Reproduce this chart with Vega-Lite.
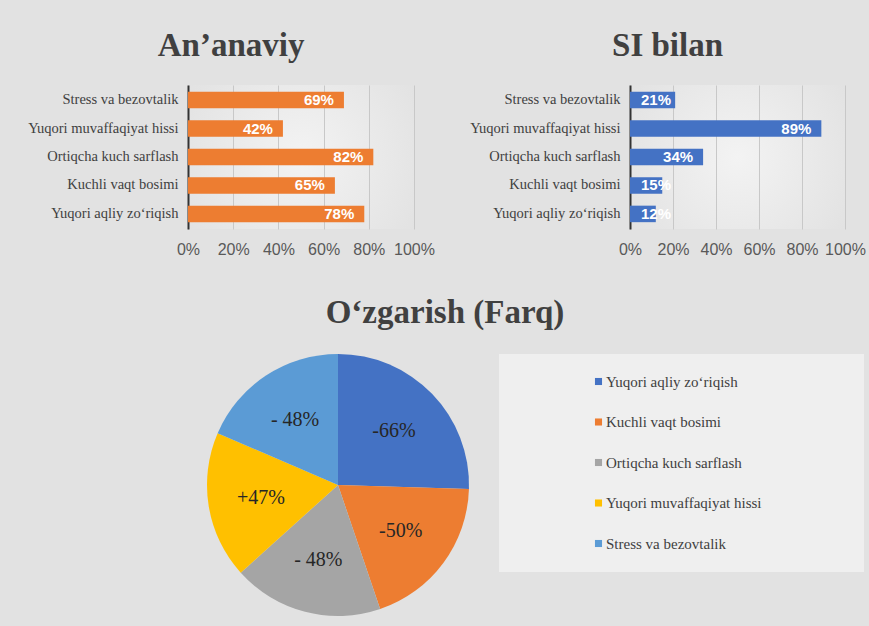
{
  "$schema": "https://vega.github.io/schema/vega-lite/v6.json",
  "background": "#e2e2e2",
  "padding": {"left": 27, "top": 30, "right": 3, "bottom": 10},
  "bounds": "flush",
  "columns": 2,
  "spacing": {"row": 125, "column": 142},
  "resolve": {"legend": {"color": "independent"}, "scale": {"color": "independent"}},
  "config": {
    "view": {"stroke": null, "fill": {"gradient": "radial", "x1": 0.5, "y1": 0.5, "r1": 0, "x2": 0.5, "y2": 0.5, "r2": 0.6, "stops": [{"offset": 0, "color": "#f3f3f3"}, {"offset": 1, "color": "#e2e2e2"}]}},
    "font": "Liberation Serif",
    "title": {"font": "Liberation Serif", "fontSize": 33, "fontWeight": "bold", "color": "#404040", "anchor": "middle"},
    "axisY": {"labelFont": "Liberation Serif", "labelFontSize": 14.5, "labelColor": "#404040", "ticks": false, "labelPadding": 10, "domainColor": "#333333", "domainWidth": 2, "title": null, "grid": false},
    "axisX": {"labelFont": "Liberation Sans", "labelFontSize": 16, "labelColor": "#595959", "ticks": false, "labelPadding": 12, "domain": false, "title": null, "grid": true, "gridColor": "#c8c8c8", "gridWidth": 1, "labelFlush": false}
  },
  "datasets": {
    "trad": [
      {"category": "Stress va bezovtalik", "value": 0.69},
      {"category": "Yuqori muvaffaqiyat hissi", "value": 0.42},
      {"category": "Ortiqcha kuch sarflash", "value": 0.82},
      {"category": "Kuchli vaqt bosimi", "value": 0.65},
      {"category": "Yuqori aqliy zo‘riqish", "value": 0.78}
    ],
    "ai": [
      {"category": "Stress va bezovtalik", "value": 0.21},
      {"category": "Yuqori muvaffaqiyat hissi", "value": 0.89},
      {"category": "Ortiqcha kuch sarflash", "value": 0.34},
      {"category": "Kuchli vaqt bosimi", "value": 0.15},
      {"category": "Yuqori aqliy zo‘riqish", "value": 0.12}
    ],
    "diff": [
      {"n": 1, "category": "Yuqori aqliy zo‘riqish", "value": 66, "label": "-66%"},
      {"n": 2, "category": "Kuchli vaqt bosimi", "value": 50, "label": "-50%"},
      {"n": 3, "category": "Ortiqcha kuch sarflash", "value": 48, "label": "- 48%"},
      {"n": 4, "category": "Yuqori muvaffaqiyat hissi", "value": 47, "label": "+47%"},
      {"n": 5, "category": "Stress va bezovtalik", "value": 48, "label": "- 48%"}
    ]
  },
  "concat": [
    {
      "width": 226, "height": 144,
      "title": {"text": "An’anaviy", "frame": "bounds", "offset": 22},
      "data": {"name": "trad"},
      "encoding": {
        "y": {"field": "category", "type": "nominal", "sort": null, "scale": {"paddingInner": 0.42, "paddingOuter": 0.24}},
        "x": {"field": "value", "type": "quantitative", "scale": {"domain": [0, 1]}, "axis": {"format": ".0%", "values": [0, 0.2, 0.4, 0.6, 0.8, 1]}}
      },
      "layer": [
        {"mark": {"type": "bar", "color": "#ED7D31"}},
        {"mark": {"type": "text", "align": "right", "baseline": "middle", "dx": -10, "color": "white", "font": "Liberation Sans", "fontWeight": "bold", "fontSize": 15}, "encoding": {"text": {"field": "value", "type": "quantitative", "format": ".0%"}}}
      ]
    },
    {
      "width": 215, "height": 144,
      "title": {"text": "SI bilan", "frame": "bounds", "offset": 22},
      "data": {"name": "ai"},
      "encoding": {
        "y": {"field": "category", "type": "nominal", "sort": null, "scale": {"paddingInner": 0.42, "paddingOuter": 0.24}},
        "x": {"field": "value", "type": "quantitative", "scale": {"domain": [0, 1]}, "axis": {"format": ".0%", "values": [0, 0.2, 0.4, 0.6, 0.8, 1]}}
      },
      "layer": [
        {"mark": {"type": "bar", "color": "#4472C4"}},
        {"transform": [{"filter": "datum.value >= 0.3"}], "mark": {"type": "text", "align": "right", "baseline": "middle", "dx": -10, "color": "white", "font": "Liberation Sans", "fontWeight": "bold", "fontSize": 15}, "encoding": {"text": {"field": "value", "type": "quantitative", "format": ".0%"}}},
        {"transform": [{"filter": "datum.value < 0.3"}], "mark": {"type": "text", "align": "left", "baseline": "middle", "dx": 11, "color": "white", "font": "Liberation Sans", "fontWeight": "bold", "fontSize": 15}, "encoding": {"x": {"datum": 0, "type": "quantitative"}, "text": {"field": "value", "type": "quantitative", "format": ".0%"}}}
      ]
    },
    {
      "width": 300, "height": 262,
      "title": {"text": "O‘zgarish (Farq)", "frame": "group", "dx": 107, "offset": 24},
      "data": {"name": "diff"},
      "encoding": {
        "theta": {"field": "value", "type": "quantitative", "stack": true},
        "order": {"field": "n", "type": "quantitative"},
        "color": {
          "field": "category", "type": "nominal",
          "scale": {"domain": ["Yuqori aqliy zo‘riqish", "Kuchli vaqt bosimi", "Ortiqcha kuch sarflash", "Yuqori muvaffaqiyat hissi", "Stress va bezovtalik"], "range": ["#4472C4", "#ED7D31", "#A5A5A5", "#FFC000", "#5B9BD5"]},
          "legend": {"orient": "right", "offset": 11, "title": " ", "titleOrient": "right", "titlePadding": 82, "titleFontSize": 15, "symbolType": "square", "symbolSize": 50, "symbolStrokeWidth": 0, "labelFont": "Liberation Serif", "labelFontSize": 15, "labelColor": "#404040", "rowPadding": 24.5, "fillColor": "#efefef", "padding": 20, "symbolOffset": 72, "labelOffset": 0, "labelLimit": 400}
        }
      },
      "layer": [
        {"mark": {"type": "arc"}},
        {"mark": {"type": "text", "radius": 78, "font": "Liberation Serif", "fontSize": 20}, "encoding": {"color": {"value": "#262626"}, "text": {"field": "label", "type": "nominal"}}}
      ]
    }
  ]
}
